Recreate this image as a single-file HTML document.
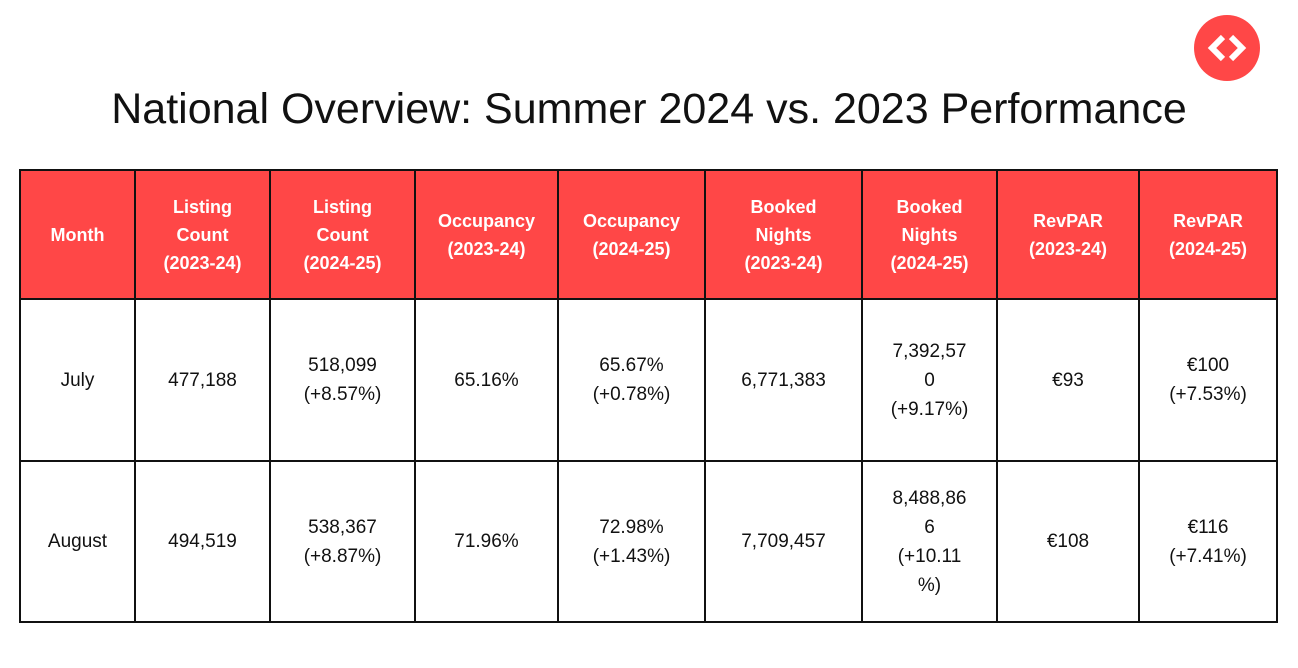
<!DOCTYPE html>
<html><head><meta charset="utf-8"><style>
body{margin:0;width:1298px;height:668px;background:#fff;position:relative;overflow:hidden;font-family:"Liberation Sans",sans-serif}
.t{position:absolute;left:0;width:1298px;top:85px;text-align:center;font-size:43px;color:#111}
.c{position:absolute;box-sizing:border-box;border:2px solid #111;display:flex;align-items:center;justify-content:center;text-align:center;font-size:19px;line-height:29px;color:#111}
.h{background:#FF4747;color:#fff;font-weight:bold;font-size:18px;line-height:28px}
</style></head><body>
<svg style="position:absolute;left:1194px;top:15px" width="66" height="66" viewBox="0 0 66 66"><circle cx="33" cy="33" r="33" fill="#FF4747"/><path d="M29 22 L18 33 L29 44 M37 22 L48 33 L37 44" stroke="#fff" stroke-width="6" fill="none"/></svg>
<div class="t">National Overview: Summer 2024 vs. 2023 Performance</div>
<div id="g"></div>
<script>
var xs=[20,135,270,415,558,705,862,997,1139,1277],ys=[170,299,461,622];
var rows=[["Month","Listing<br>Count<br>(2023-24)","Listing<br>Count<br>(2024-25)","Occupancy<br>(2023-24)","Occupancy<br>(2024-25)","Booked<br>Nights<br>(2023-24)","Booked<br>Nights<br>(2024-25)","RevPAR<br>(2023-24)","RevPAR<br>(2024-25)"],
["July","477,188","518,099<br>(+8.57%)","65.16%","65.67%<br>(+0.78%)","6,771,383","7,392,57<br>0<br>(+9.17%)","€93","€100<br>(+7.53%)"],
["August","494,519","538,367<br>(+8.87%)","71.96%","72.98%<br>(+1.43%)","7,709,457","8,488,86<br>6<br>(+10.11<br>%)","€108","€116<br>(+7.41%)"]];
var h="";
for(var r=0;r<3;r++)for(var c=0;c<9;c++){
h+='<div class="c'+(r==0?' h':'')+'" style="left:'+(xs[c]-1)+'px;top:'+(ys[r]-1)+'px;width:'+(xs[c+1]-xs[c]+2)+'px;height:'+(ys[r+1]-ys[r]+2)+'px">'+rows[r][c]+'</div>';}
document.getElementById("g").innerHTML=h;
</script>
</body></html>
